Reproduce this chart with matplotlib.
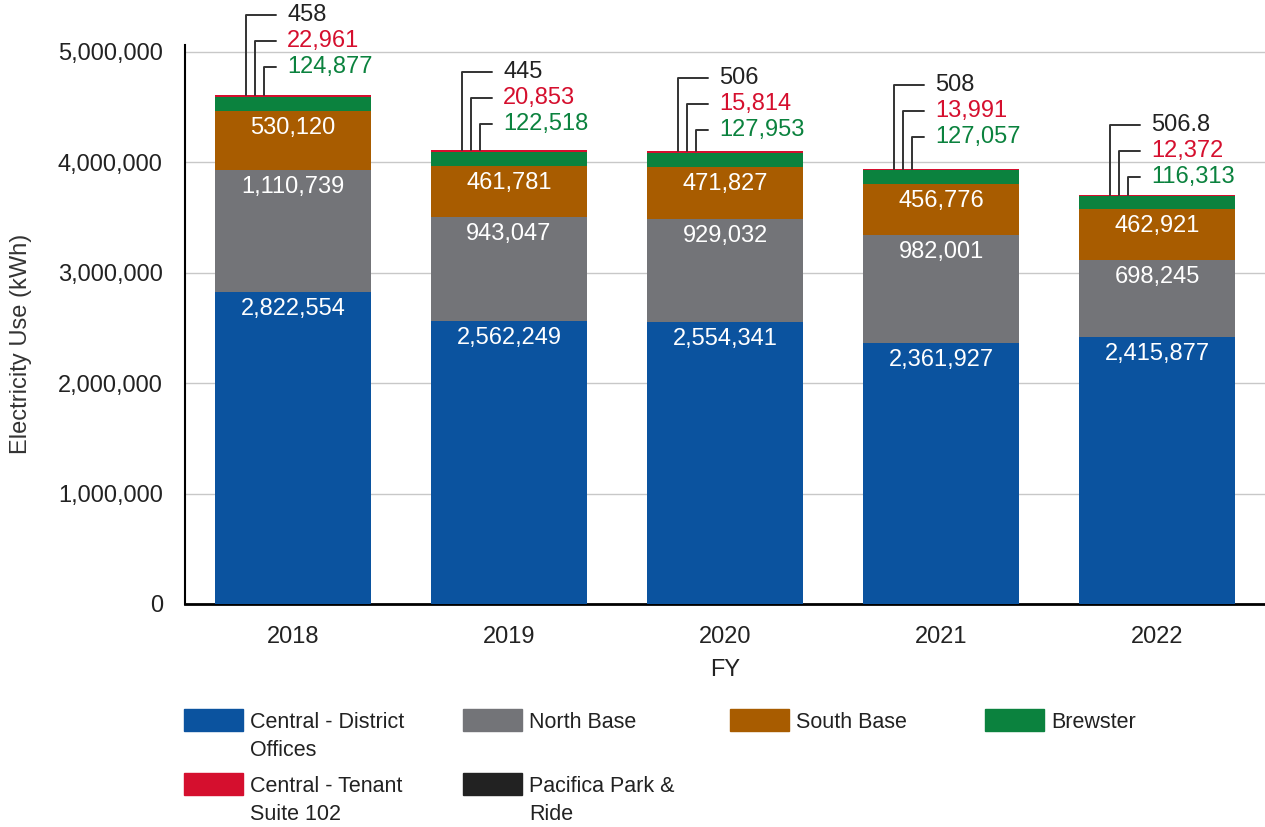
import numpy as np
import matplotlib.pyplot as plt
from matplotlib.patches import Rectangle
from matplotlib.ticker import FuncFormatter

plt.rcParams['font.family'] = ['Liberation Sans', 'DejaVu Sans']

years = ['2018', '2019', '2020', '2021', '2022']
central = [2822554, 2562249, 2554341, 2361927, 2415877]
north = [1110739, 943047, 929032, 982001, 698245]
south = [530120, 461781, 471827, 456776, 462921]
brewster = [124877, 122518, 127953, 127057, 116313]
tenant = [22961, 20853, 15814, 13991, 12372]
pacifica = [458, 445, 506, 508, 506.8]
pacifica_text = ['458', '445', '506', '508', '506.8']

names = ['Central - District\nOffices', 'North Base', 'South Base', 'Brewster',
         'Central - Tenant\nSuite 102', 'Pacifica Park &\nRide']
colors = ['#0b539f', '#737478', '#a85c00', '#0b823e', '#d50f2e', '#222222']
txt_col = '#222222'

# layout
callout_shift = [2, 0, -5, 6, -8]  # px, per bar lift tweak for callouts
W, H = 1265, 827
fig = plt.figure(figsize=(W / 100, H / 100), dpi=100)
ax = fig.add_axes([185 / W, 1 - 604 / H, 1 - 185 / W, (604 - 45) / H])

x = np.arange(len(years))
bw = 0.72
series = [central, north, south, brewster, tenant, pacifica]
bottom = np.zeros(len(years))
tops = []
for vals, c in zip(series, colors):
    vals = np.array(vals, dtype=float)
    ax.bar(x, vals, bw, bottom=bottom, color=c, zorder=3)
    tops.append(bottom + vals)
    bottom = bottom + vals
totals = bottom

# white labels inside the big segments, near the top
for k in range(3):
    for i in range(len(years)):
        ax.annotate(f'{series[k][i]:,}', xy=(x[i], tops[k][i]), xytext=(0, -17),
                    textcoords='offset pixels', ha='center', va='center',
                    color='white', fontsize=17, zorder=4)

# elbow callouts for the small segments
px_per_unit = 216.0
call = [(pacifica_text, txt_col, 31, 78), (None, colors[4], 40, 52), (None, colors[3], 49, 26)]
small_vals = [pacifica, tenant, brewster]
for j, (txts, col, xoff, lift) in enumerate(call):
    for i in range(len(years)):
        label = txts[i] if txts else f'{small_vals[j][i]:,}'
        xl = x[i] - bw / 2 + xoff / px_per_unit
        ax.annotate(label, xy=(xl, totals[i]), xytext=(65 - xoff + 7, lift + callout_shift[i]),
                    textcoords='offset pixels', ha='left', va='center', color=col,
                    fontsize=17, annotation_clip=False, zorder=5,
                    arrowprops=dict(arrowstyle='-', color='#333333', lw=1.4,
                                    connectionstyle='angle,angleA=0,angleB=90,rad=0',
                                    relpos=(0, 0.5), shrinkA=6, shrinkB=0))

ax.set_xlim(-0.5, 4.5)
ax.set_ylim(0, 5.063e6)
ax.set_yticks(np.arange(0, 5000001, 1000000))
ax.yaxis.set_major_formatter(FuncFormatter(lambda v, p: f'{int(v):,}'))
ax.set_xticks(x)
ax.set_xticklabels(years)
ax.tick_params(length=0, labelsize=17, pad=16, labelcolor=txt_col)
ax.tick_params(axis='y', pad=16)
ax.grid(axis='y', color='#c8c8c8', lw=1, zorder=0)
ax.spines['top'].set_visible(False)
ax.spines['right'].set_visible(False)
ax.spines['left'].set_linewidth(1.5)
ax.spines['bottom'].set_linewidth(2)
ax.set_xlabel('FY', fontsize=17, color=txt_col)
ax.set_ylabel('Electricity Use (kWh)', fontsize=17, color='#333333')
ax.xaxis.set_label_coords((725 - 185) / (W - 185), -(659 - 604) / (604 - 45))
ax.yaxis.set_label_coords(-(185 - 32) / (W - 185), (604 - 344) / (604 - 45))

# legend, drawn row by row with the swatch beside the first text line
leg_x = [184, 463, 730, 985, 184, 463]
leg_y = [720, 720, 720, 720, 784, 784]
for k in range(len(names)):
    lx, ly = leg_x[k], leg_y[k]
    fig.patches.append(Rectangle((lx / W, 1 - (ly + 11) / H), 59 / W, 22 / H,
                                 transform=fig.transFigure, color=colors[k]))
    fig.text((lx + 66) / W, 1 - (ly - 8) / H, names[k], ha='left', va='top',
             fontsize=15.5, color=txt_col, linespacing=1.45)

fig.savefig('out.png', dpi=100)
